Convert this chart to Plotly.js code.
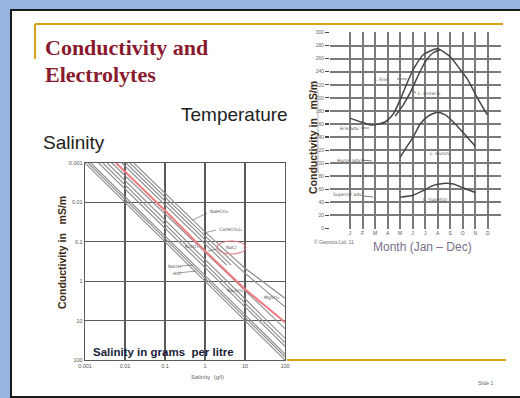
<!DOCTYPE html>
<html><head><meta charset="utf-8">
<script src="https://cdn.plot.ly/plotly-3.0.1.min.js"></script>
<style>html,body{margin:0;padding:0;background:#fff;overflow:hidden}#chart{width:520px;height:398px}</style>
</head><body><div id="chart"></div>
<script>
// ---------- Left chart: Salinity (g/l) vs Conductivity (log-log) ----------
const salTickVals = [0.001, 0.01, 0.1, 1, 10, 100];
const salTickText = ['0.001', '0.01', '0.1', '1', '10', '100'];
const condTickVals = [0.001, 0.01, 0.1, 1, 10, 100];
const condTickText = ['0.001', '0.01', '0.1', '1', '10', '100'];

const lowBand1X = [0.001, 100],  lowBand1Y = [0.001, 100];
const lowBand2X = [0.0012, 100], lowBand2Y = [0.001, 83];
const lowBand3X = [0.0014, 100], lowBand3Y = [0.001, 71];
const lowBand4X = [0.0022, 100], lowBand4Y = [0.001, 45];
const lowBand5X = [0.0028, 100], lowBand5Y = [0.001, 36];
const lowBand6X = [0.0036, 100], lowBand6Y = [0.001, 28];
const nearNaClX = [0.0047, 100], nearNaClY = [0.001, 16];
const naclX = [0.006, 0.1, 1, 10, 100];
const naclY = [0.001, 0.016, 0.17, 1.6, 11];
const nahco3X = [0.0084, 3.5],  nahco3Y = [0.001, 0.39];
const cahco3X = [0.0106, 4.5],  cahco3Y = [0.001, 0.39];
const mgso4aX = [0.0133, 1, 10, 100], mgso4aY = [0.001, 0.071, 0.63, 4.5];
const mgso4bX = [0.0167, 1, 10, 100], mgso4bY = [0.001, 0.056, 0.47, 2.7];

// ---------- Right chart: Conductivity by month, Great Lakes ----------
const monthTickVals = [1, 2, 3, 4, 5, 6, 7, 8, 9, 10, 11, 12, 13];
const monthTickText = ['J', 'F', 'M', 'A', 'M', 'J', 'J', 'A', 'S', 'O', 'N', 'D', ' '];
const condMonthTicks = [0, 20, 40, 60, 80, 100, 120, 140, 160, 180, 200, 220, 240, 260, 280, 300];

const erieX = [1, 1.88, 2.76, 3.8, 4.44, 5, 5.56, 6.04, 6.84, 7.96, 9, 9.8, 10.36, 11.16, 11.96];
const erieY = [169, 163, 158.5, 163, 175, 197, 223, 243, 266, 275, 263, 243, 229, 200, 174];
const ontarioX = [4.6, 5.24, 5.8, 6.36, 7, 7.64, 8.2];
const ontarioY = [172, 189, 208, 231, 255, 269, 274];
const huronX = [5, 5.56, 6.04, 6.6, 7.24, 7.96, 8.6, 9.4, 10.2, 11];
const huronY = [109, 126, 140, 160, 172, 178, 174, 160, 143, 126];
const superiorX = [5, 6.04, 6.84, 7.64, 8.44, 9.24, 10.04, 11];
const superiorY = [48, 51, 58, 66, 69, 68, 62, 55];

// ---------- helpers (pixel -> paper) ----------
const W = 520, H = 398;
const P = px => px / W;
const Q = py => 1 - py / H;

const gray = '#8c8c8c';
function leftLine(x, y, color, width) {
  return {type: 'scatter', mode: 'lines', x: x, y: y, xaxis: 'x', yaxis: 'y',
    line: {color: color, width: width}, hoverinfo: 'skip'};
}
function rightLine(x, y) {
  return {type: 'scatter', mode: 'lines', x: x, y: y, xaxis: 'x2', yaxis: 'y2',
    line: {color: '#454545', width: 1.5, shape: 'spline', smoothing: 0.6}, hoverinfo: 'skip'};
}

const traces = [
  leftLine(lowBand1X, lowBand1Y, gray, 1.1),
  leftLine(lowBand2X, lowBand2Y, gray, 1.1),
  leftLine(lowBand3X, lowBand3Y, gray, 1.1),
  leftLine(lowBand4X, lowBand4Y, gray, 1.1),
  leftLine(lowBand5X, lowBand5Y, gray, 1.1),
  leftLine(lowBand6X, lowBand6Y, gray, 1.1),
  leftLine(nearNaClX, nearNaClY, gray, 1.1),
  leftLine(nahco3X, nahco3Y, gray, 1.1),
  leftLine(cahco3X, cahco3Y, gray, 1.1),
  leftLine(mgso4aX, mgso4aY, gray, 1.1),
  leftLine(mgso4bX, mgso4bY, gray, 1.1),
  leftLine(naclX, naclY, '#f07a80', 2),
  rightLine(erieX, erieY),
  rightLine(ontarioX, ontarioY),
  rightLine(huronX, huronY),
  rightLine(superiorX, superiorY)
];

const serif = 'Liberation Serif, Times New Roman, serif';
const sans = 'Liberation Sans, Arial, sans-serif';
const labelFont = 'DejaVu Sans, Liberation Sans, sans-serif';
const nb = '\u00a0';

function txt(text, px, py, size, opts) {
  opts = opts || {};
  return Object.assign({
    text: text, xref: 'paper', yref: 'paper', x: P(px), y: Q(py), showarrow: false,
    xanchor: 'left', yanchor: 'middle',
    font: {family: labelFont, size: size, color: '#555'}
  }, opts);
}

const annotations = [
  txt('<b>Conductivity and</b>', 43, 47, 22, {font: {family: serif, size: 22, color: '#8a1a30'}}),
  txt('<b>Electrolytes</b>', 43, 74, 22, {font: {family: serif, size: 22, color: '#8a1a30'}}),
  txt('Temperature', 179, 114, 19, {font: {family: sans, size: 19, color: '#222'}}),
  txt('Salinity', 41, 142, 19, {font: {family: sans, size: 19, color: '#222'}}),
  txt('<b>Conductivity in' + nb + nb + nb + 'mS/m</b>', 313, 138, 10.5,
      {xanchor: 'center', textangle: -90, font: {family: sans, size: 10.5, color: '#3a2a14'}}),
  txt('<b>Conductivity in' + nb + nb + nb + 'mS/m</b>', 62, 253, 10.5,
      {xanchor: 'center', textangle: -90, font: {family: sans, size: 10.5, color: '#3a2a14'}}),
  txt('<b>Salinity in grams' + nb + ' per litre</b>', 91, 352, 11.5, {font: {family: sans, size: 11.5, color: '#1c1c3a'}}),
  txt('Month (Jan \u2013 Dec)', 371, 247, 12, {font: {family: sans, size: 12, color: '#7a6f8a'}}),
  txt('Salinity  (g/l)', 207, 377, 6, {xanchor: 'center', font: {family: sans, size: 6, color: '#666'}}),
  txt('\u00a9 Geonics Ltd. 11', 312, 242, 5, {font: {family: sans, size: 5, color: '#666'}}),
  txt('Slide 1', 486, 383, 5, {xanchor: 'center', font: {family: sans, size: 5, color: '#667'}}),
  // left chart labels
  txt('NaHCO\u2083', 208, 211, 4.5),
  txt('Ca(HCO\u2083)\u2082', 217, 229, 4.5),
  txt('NaCl', 231, 247, 4.5, {xanchor: 'center'}),
  txt('K\u2082SO\u2084', 183, 246, 4.5),
  txt('NaOH', 166, 266, 4.5),
  txt('HCl', 171, 273, 4.5),
  txt('Na\u2082CO\u2083', 225, 290, 4.5),
  txt('MgSO\u2084', 262, 297, 4.5),
  // right chart labels
  txt('L. Erie', 372, 79, 4.5),
  txt('L. Ontario', 416, 93, 4.5),
  txt('Erie adv.', 338, 128, 4.5),
  txt('Huron adv.', 335, 160, 4.5),
  txt('Superior adv.', 331, 195, 4.5),
  txt('L. Huron', 428, 153, 4.5),
  txt('L. Superior', 421, 200, 4.5)
];

function seg(x0, y0, x1, y1, color, width) {
  return {type: 'line', xref: 'paper', yref: 'paper', x0: P(x0), y0: Q(y0), x1: P(x1), y1: Q(y1),
    line: {color: color, width: width}};
}
const shapes = [
  {type: 'rect', xref: 'paper', yref: 'paper', x0: P(11), x1: P(560), y0: Q(397), y1: Q(10),
   fillcolor: '#ffffff', line: {color: '#1a1a1a', width: 2}, layer: 'below'},
  seg(35, 24, 503, 24, '#d9a21b', 2),
  seg(35, 24, 35, 59, '#d9a21b', 2),
  seg(287, 360, 506, 360, '#d9a21b', 2),
  {type: 'circle', xref: 'paper', yref: 'paper', x0: P(217), x1: P(246), y0: Q(254), y1: Q(241),
   line: {color: '#e5707c', width: 1}},
  seg(318, 90, 318, 173, '#b5b5b5', 1),
  // leaders
  seg(397, 79, 407, 79, '#555', 0.8),
  seg(413, 91, 416, 93, '#555', 0.8),
  seg(361, 128, 369, 128, '#555', 0.8),
  seg(361, 160, 372, 161, '#555', 0.8),
  seg(364, 196, 373, 197, '#555', 0.8),
  seg(207, 213, 193, 220, '#555', 0.6),
  seg(216, 230, 204, 233, '#555', 0.6),
  seg(217, 249, 208, 251, '#555', 0.6),
  seg(181, 266, 193, 265, '#555', 0.6),
  seg(178, 273, 196, 271, '#555', 0.6)
];

const axFont = {family: sans, size: 5.5, color: '#555'};
const layout = {
  width: W, height: H,
  margin: {l: 0, r: 0, t: 0, b: 0},
  paper_bgcolor: '#96b4df',
  plot_bgcolor: '#ffffff',
  showlegend: false,
  hovermode: false,
  xaxis: {type: 'log', domain: [P(85), P(285)], range: [-3, 2], anchor: 'y',
    tickvals: salTickVals, ticktext: salTickText, tickfont: axFont, ticks: '',
    showgrid: true, gridcolor: '#5a5a5a', gridwidth: 1.3, zeroline: false,
    showline: true, mirror: true, linecolor: '#5a5a5a', linewidth: 1.3},
  yaxis: {type: 'log', domain: [Q(360), Q(163)], range: [2, -3], anchor: 'x',
    tickvals: condTickVals, ticktext: condTickText, tickfont: axFont, ticks: '',
    showgrid: true, gridcolor: '#5a5a5a', gridwidth: 1.3, zeroline: false,
    showline: true, mirror: true, linecolor: '#5a5a5a', linewidth: 1.3},
  xaxis2: {domain: [P(330), P(501)], range: [-0.6, 13.05], anchor: 'y2',
    tickvals: monthTickVals, ticktext: monthTickText,
    tickfont: {family: sans, size: 5, color: '#555'}, ticks: '',
    showgrid: true, gridcolor: '#7a7a7a', gridwidth: 2, zeroline: false, showline: false},
  yaxis2: {domain: [Q(229), Q(32)], range: [-0.8, 300.8], anchor: 'x2',
    tickvals: condMonthTicks, tickfont: {family: sans, size: 5, color: '#666'},
    ticks: 'outside', ticklen: 4, tickcolor: '#444', tickwidth: 1.2,
    showgrid: true, gridcolor: '#7a7a7a', gridwidth: 2, zeroline: false, showline: false},
  annotations: annotations,
  shapes: shapes
};

Plotly.newPlot('chart', traces, layout, {staticPlot: true, displayModeBar: false});
</script></body></html>
